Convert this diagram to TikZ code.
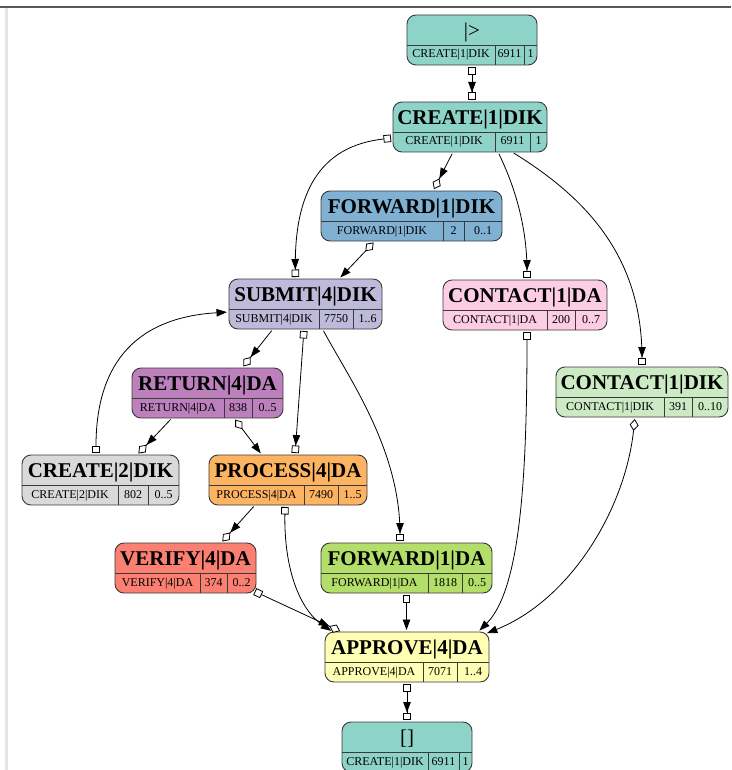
\documentclass[tikz,border=0pt]{standalone}
\usepackage{fontspec}
\setmainfont{Liberation Serif}
\usetikzlibrary{arrows.meta,calc}

\definecolor{cTeal}{HTML}{8DD3C7}
\definecolor{cBlue}{HTML}{80B1D3}
\definecolor{cLav}{HTML}{BEBADA}
\definecolor{cPink}{HTML}{FCCDE5}
\definecolor{cPurple}{HTML}{BC80BD}
\definecolor{cMint}{HTML}{CCEBC5}
\definecolor{cGrey}{HTML}{D9D9D9}
\definecolor{cOrange}{HTML}{FDB462}
\definecolor{cSalmon}{HTML}{FB8072}
\definecolor{cLime}{HTML}{B3DE69}
\definecolor{cYellow}{HTML}{FFFFB3}
\definecolor{rimc}{HTML}{3A3A3A}

\tikzset{
  recbox/.style={draw=rimc, line width=0.9pt, rounded corners=9pt, inner sep=0pt, outer sep=0pt},
  cellrule/.style={draw=rimc, line width=0.9pt},
  ttl/.style={font=\fontsize{21}{24}\selectfont\bfseries, anchor=base, inner sep=0pt},
  cel/.style={font=\fontsize{12}{14}\selectfont, anchor=base, inner sep=0pt},
  flow/.style={draw=black, line width=0.8pt, shorten >=2pt, shorten <=2pt},
  obx/.tip={Square[fill=white, length=7.5pt, width=7.5pt, line width=0.8pt]},
  odm/.tip={Diamond[fill=white, length=12pt, width=9pt, line width=0.8pt]},
  ntr/.tip={Triangle[length=10.5pt, width=7.5pt]},
}

% record node: name, left, right, top, fill, first rule, second rule, title; then three cell texts
\newcommand\recnode[8]{%
  \def\rL{#2}\def\rR{#3}\def\rT{#4}\def\rA{#6}\def\rB{#7}\def\rN{#1}%
  \node[recbox, fill=#5, minimum width={#3-#2}, minimum height=50] (#1) at ({(#2+#3)/2},{-#4-25}) {};
  \draw[cellrule] (#2,{-#4-30}) -- (#3,{-#4-30});
  \draw[cellrule] (#6,{-#4-30}) -- (#6,{-#4-50});
  \draw[cellrule] (#7,{-#4-30}) -- (#7,{-#4-50});
  \node[ttl] (#1-t) at ({(#2+#3)/2},{-#4-22.5}) {#8};
  \reccells}
\newcommand\reccells[3]{%
  \node[cel] (\rN-a) at ({(\rL+\rA)/2},{-\rT-43}) {#1};
  \node[cel] (\rN-b) at ({(\rA+\rB)/2},{-\rT-43}) {#2};
  \node[cel] (\rN-c) at ({(\rB+\rR)/2},{-\rT-43}) {#3};}

\begin{document}
\begin{tikzpicture}[x=1pt,y=1pt]
\useasboundingbox (0,0) rectangle (731,-770);
\fill[white] (0,0) rectangle (731,-770);
% page frame
\draw[black!10, line width=2.5pt] (6.5,-8) -- (6.5,-770);
\draw[black!65, line width=1.3pt] (0,-7) -- (731,-7);

% records
\recnode{st}{407}{537}{15}{cTeal}{495}{524}{{\fontsize{21}{24}\selectfont\mdseries |>}}{CREATE|1|DIK}{6911}{1}
\recnode{c1}{393}{547}{102}{cTeal}{495}{530}{CREATE|1|DIK}{CREATE|1|DIK}{6911}{1}
\recnode{f1k}{321}{502}{191}{cBlue}{443}{464}{FORWARD|1|DIK}{FORWARD|1|DIK}{2}{0..1}
\recnode{sub}{229}{382}{279}{cLav}{319}{353}{SUBMIT|4|DIK}{SUBMIT|4|DIK}{7750}{1..6}
\recnode{cda}{443}{607}{280}{cPink}{547}{575}{CONTACT|1|DA}{CONTACT|1|DA}{200}{0..7}
\recnode{ret}{132}{283}{368}{cPurple}{224}{252}{RETURN|4|DA}{RETURN|4|DA}{838}{0..5}
\recnode{cdk}{556}{728}{367}{cMint}{664}{692}{CONTACT|1|DIK}{CONTACT|1|DIK}{391}{0..10}
\recnode{cr2}{22}{179}{455}{cGrey}{118}{148}{CREATE|2|DIK}{CREATE|2|DIK}{802}{0..5}
\recnode{prc}{209}{367}{455}{cOrange}{304}{338}{PROCESS|4|DA}{PROCESS|4|DA}{7490}{1..5}
\recnode{ver}{115}{256}{543}{cSalmon}{200}{227}{VERIFY|4|DA}{VERIFY|4|DA}{374}{0..2}
\recnode{f1a}{321}{492}{543}{cLime}{428}{462}{FORWARD|1|DA}{FORWARD|1|DA}{1818}{0..5}
\recnode{apr}{325}{489}{632}{cYellow}{423}{457}{APPROVE|4|DA}{APPROVE|4|DA}{7071}{1..4}
\recnode{fin}{342}{472}{722}{cTeal}{428}{459}{{\fontsize{21}{24}\selectfont\mdseries []}}{CREATE|1|DIK}{6911}{1}

% transitions
\draw[flow, {obx[]}-{ntr[] obx[]}] (st.south) -- (st.south |- c1.north);
\draw[flow, {obx[]}-{ntr[] obx[]}] ($(c1.west)+(0,-11)$) .. controls (318,-146) and (294,-195) .. ($(sub.north)+(-10,0)$);
\draw[flow, -{ntr[] odm[]}] ($(c1.south)+(-17,0)$) -- ($(f1k.north)+(21.5,0)$);
\draw[flow, -{ntr[] obx[]}] ($(c1.south)+(28,0)$) .. controls (514,-185) and (527,-225) .. ($(cda.north)+(2,0)$);
\draw[flow, -{ntr[] obx[]}] ($(c1.south)+(42,0)$) .. controls (590,-200) and (642,-260) .. (cdk.north);
\draw[flow, {odm[]}-{ntr[]}] ($(f1k.south)+(-36.5,0)$) -- ($(sub.north)+(33.5,0)$);
\draw[flow, -{ntr[] odm[]}] ($(sub.south)+(-32.5,0)$) -- ($(ret.north)+(34.5,0)$);
\draw[flow, {obx[]}-{ntr[] obx[]}] ($(sub.south)+(-1.5,0)$) -- ($(prc.north)+(7,0)$);
\draw[flow, -{ntr[] obx[]}] ($(sub.south)+(17,0)$) .. controls (350,-380) and (400,-450) .. ($(f1a.north)+(-6.5,0)$);
\draw[flow, -{ntr[] odm[]}] ($(ret.south)+(-35.5,0)$) -- ($(cr2.north)+(36.5,0)$);
\draw[flow, {odm[]}-{ntr[]}] ($(ret.south)+(26.5,0)$) -- ($(prc.north)+(-26,0)$);
\draw[flow, {obx[]}-{ntr[]}] ($(cr2.north)+(-4.5,0)$) .. controls (96,-370) and (130,-318) .. ($(sub.west)+(0,-8)$);
\draw[flow, {obx[]}-{ntr[]}] ($(cda.south)+(2,0)$) .. controls (527,-480) and (520,-590) .. ($(apr.north)+(71,0)$);
\draw[flow, {odm[]}-{ntr[]}] ($(cdk.south)+(-7,0)$) .. controls (625,-510) and (570,-600) .. ($(apr.north east)+(-4,-2)$);
\draw[flow, -{ntr[] odm[]}] ($(prc.south)+(-33,0)$) -- ($(ver.north)+(35.5,0)$);
\draw[flow, {obx[]}-{ntr[]}] ($(prc.south)+(-3,0)$) .. controls (284,-570) and (300,-610) .. ($(apr.north west)+(8,0)$);
\draw[flow, {obx[]}-{ntr[] odm[]}] ($(ver.south east)+(-3,2.3)$) -- ($(apr.north west)+(17,0)$);
\draw[flow, {obx[]}-{ntr[]}] (f1a.south) -- (f1a.south |- apr.north);
\draw[flow, {obx[]}-{ntr[] obx[]}] (apr.south) -- (apr.south |- fin.north);
\end{tikzpicture}
\end{document}
